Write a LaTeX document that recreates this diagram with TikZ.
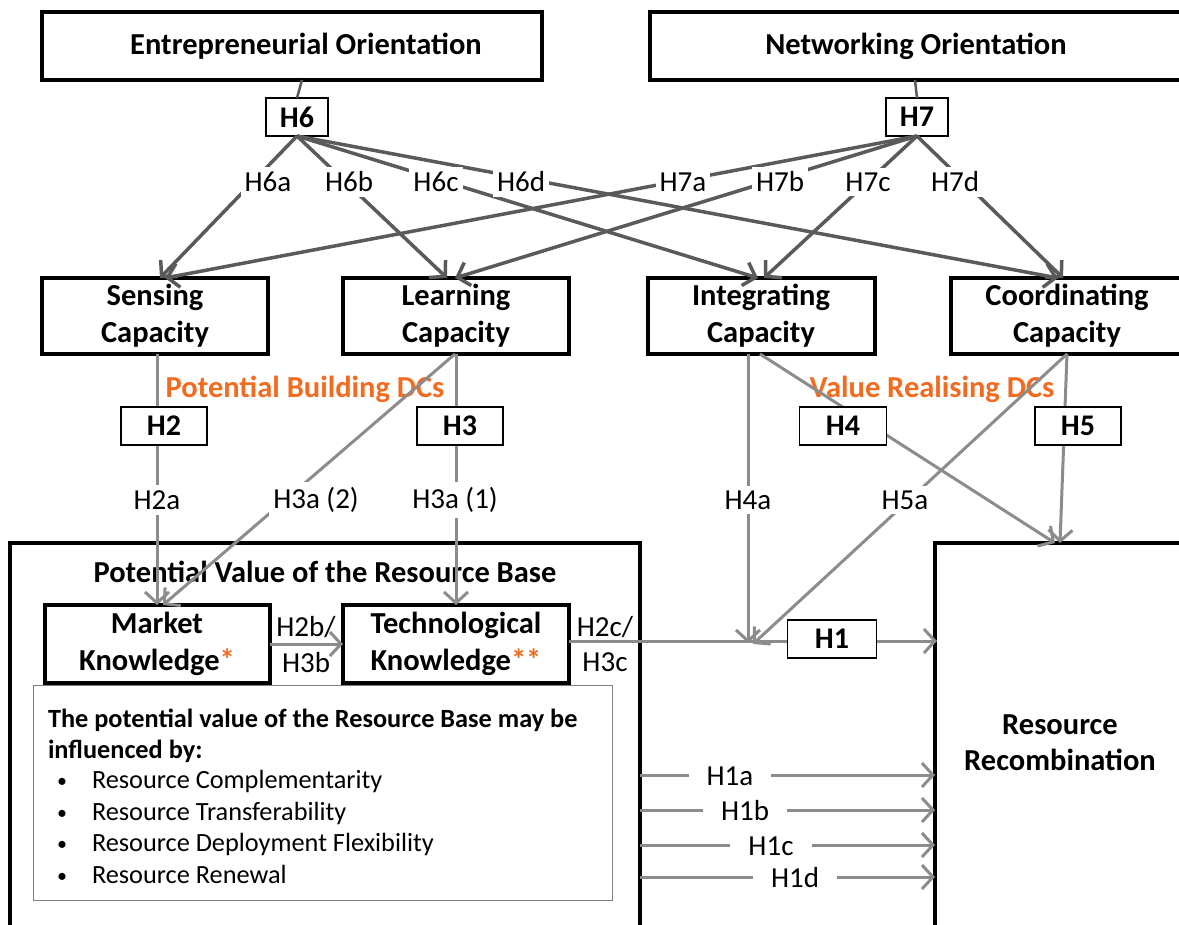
\documentclass[tikz,border=0pt]{standalone}
\usepackage{fontspec}
\setmainfont{Carlito}
\usetikzlibrary{arrows.meta}

\definecolor{darkline}{HTML}{5A5A5A}
\definecolor{lightline}{HTML}{8C8C8C}
\definecolor{accent}{HTML}{F26B1F}

\begin{document}
\begin{tikzpicture}[x=1pt,y=-1pt,
  every node/.style={inner sep=0pt,outer sep=0pt},
  mainbox/.style={draw=black,line width=4pt,fill=white,align=center,
    font=\bfseries\fontsize{30.5}{37}\selectfont},
  hbox/.style={draw=black,line width=1.5pt,fill=white,minimum height=38pt,
    font=\bfseries\fontsize{30}{35}\selectfont},
  hlabel/.style={fill=white,inner xsep=4pt,inner ysep=5pt,font=\fontsize{29}{34}\selectfont},
  widelabel/.style={hlabel,inner xsep=18pt},
  plainlabel/.style={font=\fontsize{29}{34}\selectfont},
  toparrow/.style={draw=darkline,line width=3.5pt,
    -{Straight Barb[length=11pt,width=24pt]}},
  link/.style={draw=lightline,line width=3pt},
  linkarrow/.style={link,-{Straight Barb[length=11pt,width=24pt]}},
  dcs/.style={text=accent,font=\bfseries\fontsize{30.5}{36}\selectfont},
  listtext/.style={anchor=base west,font=\fontsize{26.3}{31}\selectfont},
  listhead/.style={anchor=base west,font=\bfseries\fontsize{26.3}{31}\selectfont}]

\useasboundingbox (0,0) rectangle (1179,925);
\clip (0,0) rectangle (1179,925);

% orientations
\node[mainbox,minimum width=500pt,minimum height=68pt] (eo) at (292,46) {\hspace*{28pt}Entrepreneurial Orientation};
\node[mainbox,minimum width=532pt,minimum height=68pt] (no) at (916,46) {Networking Orientation};

% capacities
\node[mainbox,minimum width=226pt,minimum height=76pt] (sense) at (155,316) {Sensing\\Capacity};
\node[mainbox,minimum width=226pt,minimum height=76pt] (learn) at (456,316) {Learning\\Capacity};
\node[mainbox,minimum width=227pt,minimum height=76pt] (integ) at (761,316) {Integrating\\Capacity};
\node[mainbox,minimum width=232pt,minimum height=76pt] (coord) at (1067,316) {Coordinating\\Capacity};

% resource base and recombination
\node[draw=black,line width=4pt,minimum width=630pt,minimum height=400pt] (pv) at (325,743) {};
\node[font=\bfseries\fontsize{30.5}{36}\selectfont] (pvtitle) at (325,572) {Potential Value of the Resource Base};
\node[draw=black,line width=4pt,minimum width=250pt,minimum height=400pt,align=center,
  font=\bfseries\fontsize{30.5}{36}\selectfont] (rr) at (1060,743) {Resource\\Recombination};

\node[mainbox,minimum width=225pt,minimum height=78pt] (market) at (157,644)
  {Market\\Knowledge{\color{accent}*}};
\node[mainbox,minimum width=226pt,minimum height=78pt] (tech) at (456,644)
  {Technological\\Knowledge{\color{accent}**}};

% list of influences
\node[draw=gray,line width=1pt,minimum width=579pt,minimum height=215pt] (infl) at (322.5,792.5) {};
\node[listhead] (l0) at (48,727) {The potential value of the Resource Base may be};
\node[listhead] (l1) at (48,758) {influenced by:};
\foreach \yy/\txt [count=\i] in {788/Resource Complementarity,820/Resource Transferability,851/Resource Deployment Flexibility,883/Resource Renewal}{
  \node[listtext,font=\fontsize{20}{24}\selectfont] (b\i) at (57,\yy-1) {\textbullet};
  \node[listtext] (t\i) at (92,\yy) {\txt};
}

% group captions
\node[dcs] (pbd) at (305,389) {Potential Building DCs};
\node[dcs] (vrd) at (932,389) {Value Realising DCs};

% hypothesis boxes for the orientations
\node[hbox,minimum width=62pt] (h6) at (297,117) {H6};
\node[hbox,minimum width=62pt] (h7) at (917,117) {H7};

% orientation links
\draw[darkline,line width=2.5pt] ([xshift=10pt]eo.south) -- (h6.north);
\draw[darkline,line width=2.5pt] ([xshift=-1pt]no.south) -- (h7.north);

% H6 arrows
\draw[toparrow] (h6.south) -- ([xshift=5pt]sense.north);
\draw[toparrow] (h6.south) -- ([xshift=-9pt]learn.north);
\draw[toparrow] (h6.south) -- ([xshift=-3pt]integ.north);
\draw[toparrow] (h6.south) -- ([xshift=-9pt]coord.north);
% H7 arrows
\draw[toparrow] (h7.south) -- ([xshift=10pt]sense.north);
\draw[toparrow] (h7.south) -- ([xshift=-1pt]learn.north);
\draw[toparrow] (h7.south) -- ([xshift=3pt]integ.north);
\draw[toparrow] (h7.south) -- ([xshift=-4pt]coord.north);

\node[hlabel] (l6a) at (268,182) {H6a};
\node[hlabel] (l6b) at (349,182) {H6b};
\node[hlabel] (l6c) at (436,182) {H6c};
\node[hlabel] (l6d) at (521,182) {H6d};
\node[hlabel] (l7a) at (683,182) {H7a};
\node[hlabel] (l7b) at (780,182) {H7b};
\node[hlabel] (l7c) at (868,182) {H7c};
\node[hlabel] (l7d) at (955,182) {H7d};

% potential building links
\draw[linkarrow] (market.north |- sense.south) -- (market.north);
\draw[linkarrow] (tech.north |- learn.south) -- (tech.north);
\draw[linkarrow] ([xshift=-1pt]learn.south) -- ([xshift=6pt]market.north);
\node[hbox,minimum width=86pt] (h2) at (164,426) {H2};
\node[hbox,minimum width=86pt] (h3) at (460,426) {H3};
\node[hlabel] (l2a) at (157,500) {H2a};
\node[hlabel] (l3a2) at (316,500) {H3a (2)};
\node[hlabel] (l3a1) at (455,500) {H3a (1)};

% value realising links
\coordinate (jn) at (748,641);
\draw[link] (tech.east |- jn) -- (rr.west |- jn);
\draw[linkarrow,shorten >=-2pt] (rr.west |- jn) ++(-20,0) -- (rr.west |- jn);
\draw[linkarrow] (jn |- integ.south) -- ([yshift=-2pt]jn);
\draw[linkarrow] ([xshift=-1pt]integ.south) -- ([xshift=-5pt]rr.north);
\draw[linkarrow] (coord.south) -- ([xshift=5pt,yshift=-3pt]jn);
\draw[linkarrow] (coord.south) -- (rr.north);
\node[hbox,minimum width=87pt] (h4) at (843,426) {H4};
\node[hbox,minimum width=86pt] (h5) at (1078,426) {H5};
\node[hlabel] (l4a) at (748,500) {H4a};
\node[hlabel] (l5a) at (905,500) {H5a};
\node[hbox,minimum width=89pt] (h1) at (832,639) {H1};

% knowledge links
\draw[linkarrow] (market.east) -- (tech.west);
\node[plainlabel] (l2b) at (306,627) {H2b/};
\node[plainlabel] (l3b) at (306,663) {H3b};
\node[plainlabel] (l2c) at (605,627) {H2c/};
\node[plainlabel] (l3c) at (605,662) {H3c};

% H1a-H1d
\foreach \yy/\lx/\lab in {775/730/H1a,810/745/H1b,845/771/H1c,877/795/H1d}{
  \coordinate (r\lab) at (0,\yy);
  \draw[linkarrow] (pv.east |- r\lab) -- (rr.west |- r\lab);
  \node[widelabel] at (\lx,\yy+1) {\lab};
}
\end{tikzpicture}
\end{document}
